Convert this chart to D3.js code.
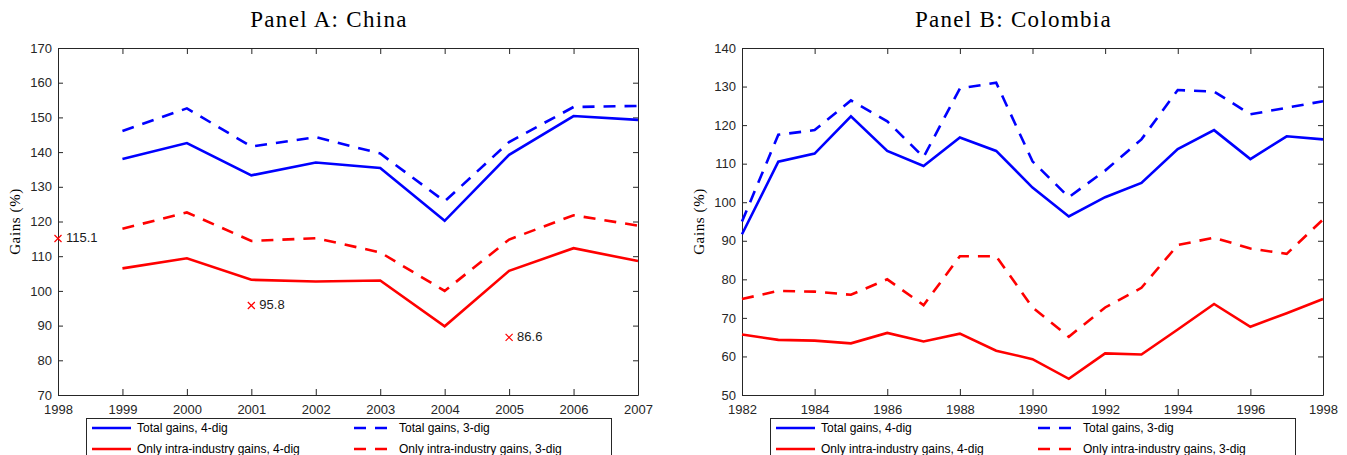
<!DOCTYPE html>
<html lang="en">
<head>
<meta charset="utf-8">
<title>Gains from trade: China and Colombia</title>
<script src="https://cdn.jsdelivr.net/npm/d3@7"></script>
<style>
  body { margin: 0; background: #fff; }
  svg text { font-family: "Liberation Sans", Arial, sans-serif; }
  .title, .ylabel { font-family: "Liberation Serif", "Times New Roman", serif; fill: #000; }
  .axis path, .axis line { stroke: #262626; }
  .axis text { fill: #262626; font-size: 13px; }
  .legend text { font-size: 12px; fill: #000; }
  .mark-label { font-size: 13px; fill: #1a1a1a; }
</style>
</head>
<body>
<div id="chart"></div>
<script>
// ---- Panel A: China ----
var chinaYears  = [1999, 2000, 2001, 2002, 2003, 2004, 2005, 2006, 2007];
var chinaTotal4 = [138.0, 142.6, 133.3, 137.0, 135.4, 120.2, 139.2, 150.4, 149.3];
var chinaTotal3 = [146.1, 152.6, 141.6, 144.3, 139.6, 125.8, 142.9, 153.0, 153.3];
var chinaIntra4 = [106.5, 109.4, 103.2, 102.7, 103.0, 89.8, 105.8, 112.3, 108.6];
var chinaIntra3 = [117.9, 122.6, 114.4, 115.2, 111.1, 100.0, 114.8, 121.8, 118.8];
var chinaMarkYears  = [1998, 2001, 2005];
var chinaMarkValues = [115.1, 95.8, 86.6];
var chinaXTicks = [1998, 1999, 2000, 2001, 2002, 2003, 2004, 2005, 2006, 2007];
var chinaYTicks = [70, 80, 90, 100, 110, 120, 130, 140, 150, 160, 170];

// ---- Panel B: Colombia ----
var colombiaYears  = [1982, 1983, 1984, 1985, 1986, 1987, 1988, 1989, 1990,
                      1991, 1992, 1993, 1994, 1995, 1996, 1997, 1998];
var colombiaTotal4 = [91.7, 110.5, 112.6, 122.3, 113.3, 109.4, 116.8, 113.3, 103.8,
                      96.3, 101.3, 105.0, 113.8, 118.7, 111.2, 117.1, 116.3];
var colombiaTotal3 = [95.0, 117.5, 118.7, 126.4, 121.0, 111.7, 129.5, 131.0, 110.6,
                      101.3, 108.2, 116.3, 129.1, 128.7, 122.8, 124.5, 126.2];
var colombiaIntra4 = [65.7, 64.3, 64.1, 63.4, 66.1, 63.9, 65.9, 61.5, 59.3,
                      54.2, 60.8, 60.5, 67.0, 73.6, 67.7, 71.2, 74.9];
var colombiaIntra3 = [74.9, 77.0, 76.8, 76.0, 80.0, 73.3, 86.0, 86.0, 72.7,
                      65.1, 72.7, 77.8, 88.9, 90.8, 88.0, 86.6, 95.5];
var colombiaXTicks = [1982, 1984, 1986, 1988, 1990, 1992, 1994, 1996, 1998];
var colombiaYTicks = [50, 60, 70, 80, 90, 100, 110, 120, 130, 140];

var seriesNames = ["Total gains, 4-dig", "Total gains, 3-dig",
                   "Only intra-industry gains, 4-dig", "Only intra-industry gains, 3-dig"];
var seriesColors = ["#0000ff", "#0000ff", "#ff0000", "#ff0000"];
var seriesDashed = [false, true, false, true];

var W = 1347, H = 455;
var DASH = "12,9";

var svg = d3.select("#chart").append("svg")
  .attr("width", W)
  .attr("height", H);

function drawPanel(p) {
  var x = d3.scaleLinear().domain([p.xTicks[0], p.xTicks[p.xTicks.length - 1]]).range([p.left, p.right]);
  var y = d3.scaleLinear().domain([p.yTicks[0], p.yTicks[p.yTicks.length - 1]]).range([p.bottom, p.top]);
  var g = svg.append("g");

  // title (latex-ish look: wide serif)
  g.append("text")
    .attr("class", "title")
    .attr("x", (p.left + p.right) / 2 - 19)
    .attr("y", 27)
    .attr("text-anchor", "middle")
    .style("font-size", "23px")
    .style("letter-spacing", "1.3px")
    .text(p.title);

  // y label
  g.append("text")
    .attr("class", "ylabel")
    .attr("transform", "translate(" + (p.left - 38) + "," + ((p.top + p.bottom) / 2) + ") rotate(-90)")
    .attr("text-anchor", "middle")
    .style("font-size", "15px")
    .style("letter-spacing", "0.6px")
    .text("Gains (%)");

  // box axes, ticks pointing inward (matlab style)
  g.append("g").attr("class", "axis")
    .attr("transform", "translate(0," + p.bottom + ")")
    .call(d3.axisBottom(x).tickValues(p.xTicks).tickFormat(d3.format("d"))
      .tickSizeInner(-6).tickSizeOuter(0).tickPadding(10));
  g.append("g").attr("class", "axis")
    .attr("transform", "translate(0," + p.top + ")")
    .call(d3.axisTop(x).tickValues(p.xTicks).tickFormat("")
      .tickSizeInner(-6).tickSizeOuter(0));
  g.append("g").attr("class", "axis")
    .attr("transform", "translate(" + p.left + ",0)")
    .call(d3.axisLeft(y).tickValues(p.yTicks).tickFormat(d3.format("d"))
      .tickSizeInner(-5).tickSizeOuter(0).tickPadding(6));
  g.append("g").attr("class", "axis")
    .attr("transform", "translate(" + p.right + ",0)")
    .call(d3.axisRight(y).tickValues(p.yTicks).tickFormat("")
      .tickSizeInner(-5).tickSizeOuter(0));

  // lines
  var line = d3.line()
    .x(function(d) { return x(d.year); })
    .y(function(d) { return y(d.value); });

  p.series.forEach(function(vals, i) {
    var pts = p.years.map(function(yr, j) { return {year: yr, value: vals[j]}; });
    g.append("path")
      .datum(pts)
      .attr("fill", "none")
      .attr("stroke", seriesColors[i])
      .attr("stroke-width", 2.6)
      .attr("stroke-dasharray", seriesDashed[i] ? DASH : null)
      .attr("d", line);
  });

  // highlighted points (x markers with values)
  if (p.markYears) {
    var marks = p.markYears.map(function(yr, j) { return {year: yr, value: p.markValues[j]}; });
    g.selectAll(".mark").data(marks).enter().append("path")
      .attr("class", "mark")
      .attr("transform", function(d) { return "translate(" + x(d.year) + "," + y(d.value) + ")"; })
      .attr("d", d3.symbol(d3.symbolTimes, 34))
      .attr("fill", "none")
      .attr("stroke", "#ff0000")
      .attr("stroke-width", 1.2);
    g.selectAll(".mark-label").data(marks).enter().append("text")
      .attr("class", "mark-label")
      .attr("x", function(d) { return x(d.year) + 8; })
      .attr("y", function(d) { return y(d.value); })
      .attr("dy", "0.3em")
      .text(function(d) { return d3.format(".1f")(d.value); });
  }

  // legend
  var lx = p.left + 28, ly = 418;
  var leg = g.append("g").attr("class", "legend");
  leg.append("rect")
    .attr("x", lx + 0.5).attr("y", ly + 0.5)
    .attr("width", 525).attr("height", 45)
    .attr("fill", "#fff").attr("stroke", "#262626");
  seriesNames.forEach(function(name, i) {
    var col = i % 2, row = Math.floor(i / 2);
    var cy = ly + 10 + row * 21;
    var sx = lx + (col ? 268 : 6), ex = lx + (col ? 301 : 45);
    leg.append("line")
      .attr("x1", sx).attr("x2", ex).attr("y1", cy).attr("y2", cy)
      .attr("stroke", seriesColors[i]).attr("stroke-width", 2.6)
      .attr("stroke-dasharray", seriesDashed[i] ? DASH : null);
    leg.append("text")
      .attr("x", lx + (col ? 313 : 51))
      .attr("y", cy).attr("dy", "0.36em")
      .text(name);
  });
}

drawPanel({
  title: "Panel A: China",
  left: 58, right: 638, top: 48, bottom: 395,
  xTicks: chinaXTicks, yTicks: chinaYTicks,
  years: chinaYears,
  series: [chinaTotal4, chinaTotal3, chinaIntra4, chinaIntra3],
  markYears: chinaMarkYears, markValues: chinaMarkValues
});

drawPanel({
  title: "Panel B: Colombia",
  left: 742, right: 1323, top: 48, bottom: 395,
  xTicks: colombiaXTicks, yTicks: colombiaYTicks,
  years: colombiaYears,
  series: [colombiaTotal4, colombiaTotal3, colombiaIntra4, colombiaIntra3]
});
</script>
</body>
</html>
